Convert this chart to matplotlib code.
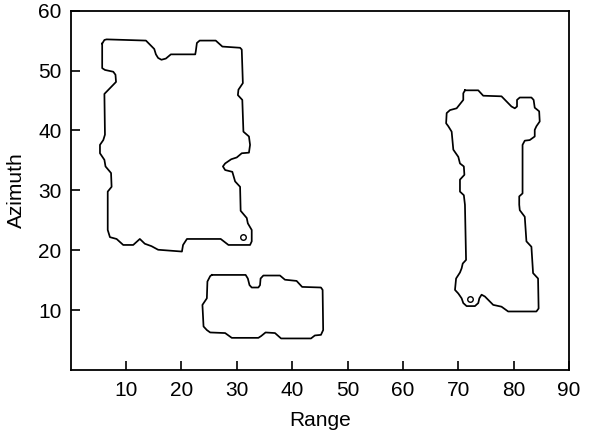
import numpy as np
import matplotlib.pyplot as plt

plt.rcParams['font.family'] = ['Liberation Sans', 'DejaVu Sans']

# outline of the large left region (range, azimuth)
reg1_x = [5.7, 6.1, 6.5, 13.6, 15.1, 15.4, 15.8, 16.4, 17.2, 18.1, 22.5, 22.6, 22.8, 23.3,
          26.2, 27.4, 30.6, 30.9, 31.1, 30.3, 30.2, 31.0, 31.2, 32.2, 32.4, 32.2, 30.9, 30.0,
          29.0, 27.9, 27.5, 27.9, 29.2, 29.7, 30.6, 30.7, 31.8, 32.0, 32.7, 32.7, 32.4, 28.5,
          27.1, 21.0, 20.3, 20.1, 15.8, 14.6, 13.4, 12.5, 11.3, 9.5, 8.3, 7.1, 6.7, 6.7,
          7.4, 7.3, 6.3, 6.1, 5.3, 5.3, 5.9, 6.2, 6.1, 8.2, 8.1, 7.7, 6.2, 5.7]
reg1_y = [54.5, 55.1, 55.2, 55.0, 53.6, 52.7, 52.1, 51.8, 52.0, 52.7, 52.7, 53.2, 54.6, 55.0,
          55.0, 54.0, 53.8, 53.5, 47.9, 46.8, 45.9, 45.1, 39.8, 39.0, 37.6, 36.3, 36.2, 35.5,
          35.2, 34.5, 34.0, 33.4, 33.1, 31.5, 30.6, 26.6, 25.4, 24.5, 23.4, 21.5, 20.9, 20.9,
          21.9, 21.9, 20.9, 19.8, 20.1, 20.7, 21.1, 21.9, 20.9, 20.9, 21.9, 22.2, 23.4, 29.8,
          30.6, 32.9, 34.0, 35.1, 36.2, 37.6, 38.4, 39.3, 46.1, 48.1, 49.3, 49.8, 50.1, 50.4]

# outline of the bottom middle region
reg2_x = [25.5, 31.6, 32.0, 32.3, 32.7, 33.9, 34.2, 34.3, 34.8, 37.8, 38.7, 40.8, 41.8,
          45.2, 45.5, 45.6, 45.2, 44.1, 43.4, 38.0, 36.9, 35.2, 34.4, 33.9, 29.1, 27.9,
          25.2, 24.6, 24.0, 23.8, 24.6, 24.7, 25.2]
reg2_y = [15.9, 15.9, 15.3, 14.2, 13.8, 13.8, 14.2, 15.3, 15.8, 15.8, 15.1, 14.9, 13.9,
          13.8, 13.4, 6.7, 5.9, 5.8, 5.3, 5.3, 6.2, 6.3, 5.7, 5.4, 5.4, 6.2,
          6.3, 6.7, 7.3, 10.9, 12.0, 14.8, 15.7]

# outline of the right region
reg3_x = [71.2, 73.6, 74.5, 77.8, 79.6, 80.2, 80.6, 80.6, 81.1, 83.2, 83.6, 83.8, 84.6,
          84.7, 84.1, 83.8, 83.8, 82.9, 82.0, 81.6, 81.6, 81.0, 81.0, 81.1, 82.0, 82.3,
          83.2, 83.5, 84.4, 84.5, 84.1, 79.0, 77.8, 76.3, 74.8, 74.2, 73.8, 73.6, 73.0,
          71.5, 70.9, 70.6, 70.0, 69.4, 69.6, 70.3, 70.6, 70.8, 71.4, 71.2, 71.0, 70.3,
          70.3, 71.1, 71.0, 70.3, 70.0, 69.1, 68.8, 68.2, 67.8, 67.9, 68.5, 69.7, 70.9, 70.9]
reg3_y = [46.7, 46.7, 45.8, 45.7, 44.0, 43.7, 44.0, 45.1, 45.5, 45.5, 45.1, 43.8, 43.2,
          41.5, 40.7, 40.1, 39.0, 38.4, 38.3, 37.6, 29.5, 29.0, 27.6, 26.7, 25.6, 21.5,
          20.6, 16.2, 15.3, 10.3, 9.8, 9.8, 10.6, 10.9, 12.3, 12.6, 12.0, 11.2, 10.7,
          10.7, 11.2, 12.0, 12.8, 13.4, 15.3, 16.3, 17.0, 17.8, 18.4, 27.6, 29.2, 29.8,
          31.8, 32.6, 34.0, 34.5, 35.6, 36.8, 39.8, 40.7, 41.2, 42.9, 43.4, 43.7, 45.1, 46.2]

# isolated points
pts_x = [31.2, 72.2]
pts_y = [22.3, 11.9]

fig = plt.figure(figsize=(6.02, 4.33), dpi=100)
ax = fig.add_axes([0.1173, 0.145, 0.828, 0.8305])

for xs, ys in [(reg1_x, reg1_y), (reg2_x, reg2_y), (reg3_x, reg3_y)]:
    ax.plot(xs + xs[:1], ys + ys[:1], color='black', lw=1.25, solid_joinstyle='round')

ax.plot(pts_x, pts_y, 'o', ms=4, mfc='white', mec='black', mew=1.0)

ax.set_xlim(0, 90)
ax.set_ylim(0, 60)
ax.set_xticks(range(10, 91, 10))
ax.set_yticks(range(10, 61, 10))
ax.tick_params(direction='in', length=6.5, width=1.2, labelsize=15,
               top=False, right=False)
ax.tick_params(axis='x', pad=7.5)
ax.tick_params(axis='y', pad=6.5)
for sp in ax.spines.values():
    sp.set_linewidth(1.3)

ax.set_xlabel('Range', fontsize=15, labelpad=8.5)
ax.set_ylabel('Azimuth', fontsize=15, labelpad=9)

fig.savefig('out.png', dpi=100)
